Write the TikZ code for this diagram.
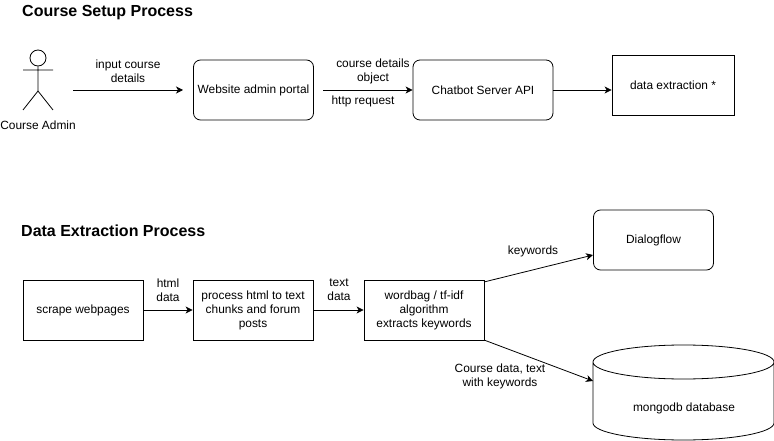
\documentclass[tikz,border=0pt]{standalone}
\usepackage{fontspec}
\setmainfont{Liberation Sans}
\usetikzlibrary{arrows.meta,shapes.geometric}
\tikzset{
 x=1pt,y=-1pt,
 boxs/.style={draw,line width=0.8pt,align=center,font=\fontsize{11.9}{14}\selectfont,inner sep=0pt},
 rbox/.style={boxs,rounded corners=7pt},
 lab/.style={align=center,font=\fontsize{11.9}{14}\selectfont,inner sep=0pt},
 head/.style={font=\bfseries\fontsize{16}{18}\selectfont,anchor=west,inner sep=0pt},
 conn/.style={draw,line width=0.8pt,-{Stealth[length=7pt,width=7pt,inset=2pt]}},
}
\begin{document}
\begin{tikzpicture}
\useasboundingbox (0,0) rectangle (774,441);
\node[head] (t1) at (22,12.5) {Course Setup Process};
\node[head] (t2) at (21,231) {Data Extraction Process};
% actor
\node[draw,line width=0.8pt,circle,minimum size=16pt,inner sep=0pt] (ahead) at (38,58) {};
\coordinate (ah) at (38,91);
\draw[line width=0.8pt] (ahead.south)--(ah) (23,70)--(53,70) (ah)--(23,110) (ah)--(53,110);
\node[lab] (admin) at (38,125) {Course Admin};
\node[rbox,minimum width=120pt,minimum height=60pt] (portal) at (253.5,90) {\raisebox{-1pt}{Website admin portal}};
\node[rbox,minimum width=140pt,minimum height=60pt] (api) at (483,90) {\raisebox{-1pt}{Chatbot Server API}};
\node[boxs,minimum width=122pt,minimum height=60pt] (dx) at (673,85) {\raisebox{-1pt}{data extraction *}};
\coordinate (a0) at (73,90);
\coordinate (a1) at (183,90);
\coordinate (a2) at (323,90);
\draw[conn] (a0)--(a1);
\draw[conn] (a2)--(api.west |- a2);
\draw[conn] (api.east |- a2)--(dx.west |- a2);
\node[lab] (l1) at (128,71) {input course\\details};
\node[lab] (l2) at (373,71) {course details\\object};
\node[lab] (l3) at (363,101) {http request};
\node[boxs,minimum width=120pt,minimum height=60pt] (sc) at (83,310) {scrape webpages};
\node[boxs,minimum width=120pt,minimum height=60pt] (pr) at (253,310) {process html to text\\chunks and forum\\posts};
\node[boxs,minimum width=120pt,minimum height=60pt] (wb) at (424,310) {wordbag / tf-idf\\algorithm\\extracts keywords};
\node[rbox,minimum width=120pt,minimum height=60pt] (df) at (653.5,240) {\raisebox{-1pt}{Dialogflow}};
\draw[line width=0.8pt] (593,362) -- (593,423) arc[start angle=180,end angle=360,x radius=90.5pt,y radius=17pt] -- (774,362) arc[start angle=0,end angle=180,x radius=90.5pt,y radius=17pt] arc[start angle=180,end angle=360,x radius=90.5pt,y radius=17pt];
\node[lab] (dbl) at (684,408) {mongodb database};
\coordinate (c1) at (484,282);
\coordinate (c2) at (593,255);
\coordinate (c3) at (484,340);
\coordinate (c4) at (593,381);
\draw[conn] (sc)--(pr);
\draw[conn] (pr)--(wb);
\draw[conn] (c1)--(c2);
\draw[conn] (c3)--(c4);
\node[lab] (l4) at (168,290) {html\\data};
\node[lab] (l5) at (339,290) {text\\data};
\node[lab] (l6) at (533,251) {keywords};
\node[lab] (l7) at (500,376) {Course data, text\\with keywords};
\end{tikzpicture}
\end{document}
